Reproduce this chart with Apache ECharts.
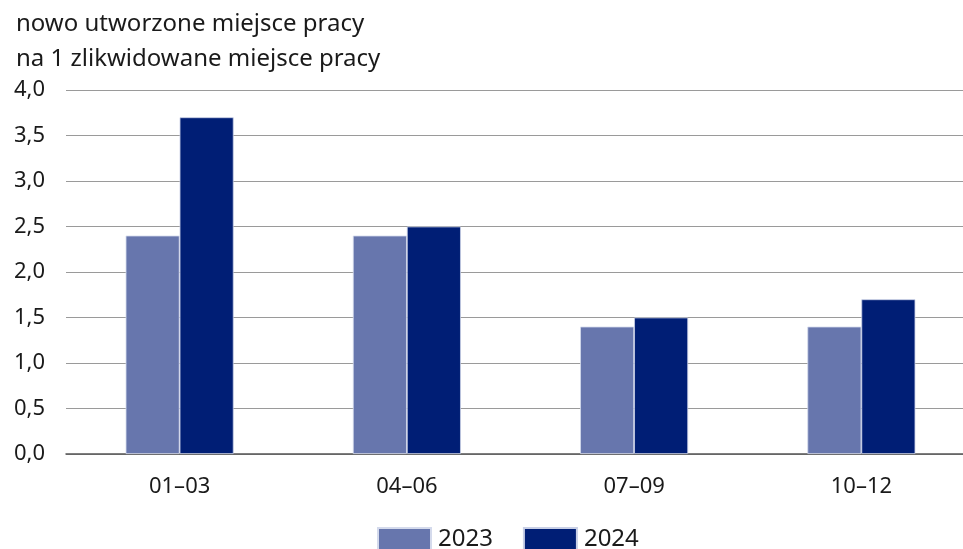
<!DOCTYPE html>
<html><head><meta charset="utf-8">
<script src="https://cdn.jsdelivr.net/npm/echarts@6/dist/echarts.min.js"></script>
<style>html,body{margin:0;padding:0;background:#fff}#c{width:963px;height:549px}</style>
</head><body><div id="c"></div>
<script>
const categories = ['01–03', '04–06', '07–09', '10–12'];
const values2023 = [2.4, 2.4, 1.4, 1.4];
const values2024 = [3.7, 2.5, 1.5, 1.7];
const seriesNames = ['2023', '2024'];
const titleLines = ['nowo utworzone miejsce pracy', 'na 1 zlikwidowane miejsce pracy'];

const font = 'Noto Sans';
const chart = echarts.init(document.getElementById('c'));
chart.setOption({
  animation: false,
  title: {
    text: titleLines.join('\n'), left: 11, top: 2,
    textStyle: {fontFamily: font, fontSize: 24, fontWeight: 'normal', color: '#1a1a1a', lineHeight: 35}
  },
  legend: {
    data: seriesNames, top: 527, left: 377, padding: 0, itemWidth: 53, itemHeight: 23, itemGap: 30,
    textStyle: {fontFamily: font, fontSize: 24, color: '#1a1a1a', padding: [4, 0, 0, 2]},
    icon: 'rect'
  },
  grid: {left: 66, width: 909, top: 90, height: 364, containLabel: false, outerBoundsMode: 'none'},
  xAxis: {
    type: 'category', data: categories,
    axisLine: {lineStyle: {color: '#555', width: 1.5}},
    axisTick: {show: false},
    axisLabel: {fontFamily: font, fontSize: 22, color: '#1a1a1a', margin: 22}
  },
  yAxis: {
    type: 'value', min: 0, max: 4, interval: 0.5,
    axisLine: {show: false}, axisTick: {show: false},
    splitLine: {lineStyle: {color: '#9a9a9a', width: 1}},
    axisLabel: {fontFamily: font, fontSize: 22, color: '#1a1a1a', margin: 21,
      formatter: v => v.toFixed(1).replace('.', ',')}
  },
  series: [
    {name: seriesNames[0], type: 'bar', data: values2023, barWidth: 54, barGap: '0%',
     itemStyle: {color: '#6776ad', borderColor: '#d4daec', borderWidth: 0.8}},
    {name: seriesNames[1], type: 'bar', data: values2024, barWidth: 54, barGap: '0%',
     itemStyle: {color: '#001e75', borderColor: '#c8cfe6', borderWidth: 0.8}}
  ]
});
</script></body></html>
